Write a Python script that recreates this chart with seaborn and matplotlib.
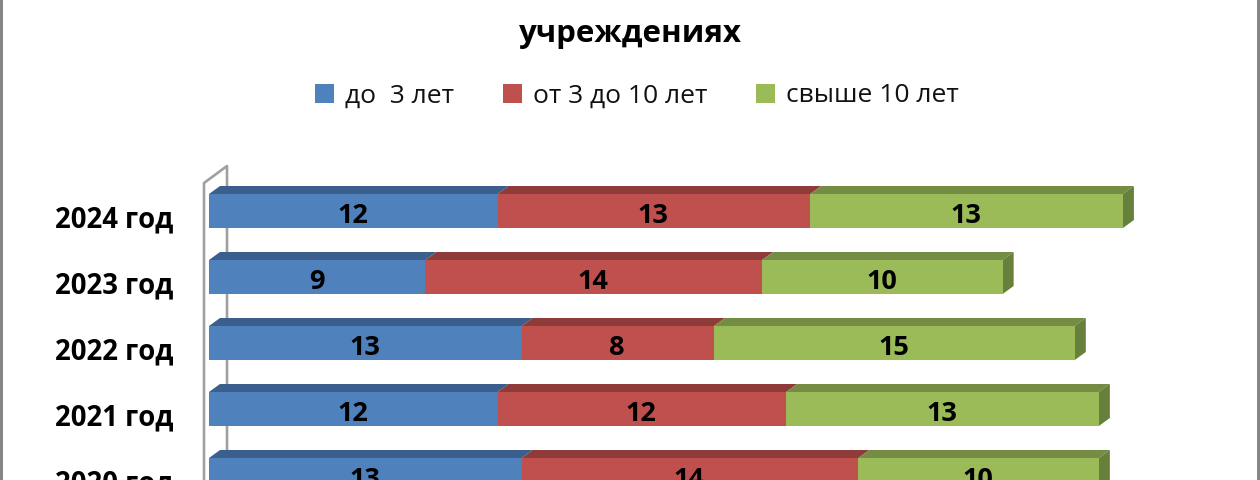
import numpy as np
import pandas as pd
import matplotlib
matplotlib.use("Agg")
import matplotlib.pyplot as plt
from matplotlib.patches import Polygon, Rectangle, Patch
from matplotlib.lines import Line2D
import seaborn as sns

years = ["2024 год", "2023 год", "2022 год", "2021 год", "2020 год"]
up_to_3 = [12, 9, 13, 12, 13]
from_3_to_10 = [13, 14, 8, 12, 14]
over_10 = [13, 10, 15, 13, 10]
series_names = ["до  3 лет", "от 3 до 10 лет", "свыше 10 лет"]
title_text = "учреждениях"

FRONT = ["#4f81bd", "#c0504d", "#9bbb59"]
TOP = ["#3b5f8c", "#8e3b39", "#748c43"]
SIDE = ["#36567f", "#823634", "#67803b"]

sns.set_theme(style="white")
plt.rcParams["font.family"] = ["Open Sans", "DejaVu Sans"]

W, H = 1260, 480
fig = plt.figure(figsize=(W / 100, H / 100), dpi=100, facecolor="white")

# axes placed in pixels; extends below the figure, the chart is cropped there
px_per_unit = 24.05
row_px = 66
ax_left, ax_top, ax_w = 209, 178, 1000
ax_h = row_px * 5
ax = fig.add_axes([ax_left / W, 1 - (ax_top + ax_h) / H, ax_w / W, ax_h / H])
ax.patch.set_alpha(0)

df = pd.DataFrame({"year": years, "a": up_to_3, "b": from_3_to_10, "c": over_10})
df["ab"] = df["a"] + df["b"]
df["abc"] = df["ab"] + df["c"]

bar_h = 34 / row_px
depth_x = 11 / px_per_unit
depth_y = 8 / row_px

# overlaid cumulative bars make the stack
for col, colour in zip(["abc", "ab", "a"], FRONT[::-1]):
    sns.barplot(data=df, y="year", x=col, orient="y", order=years, color=colour,
                width=bar_h, saturation=1, ax=ax, zorder=3, errorbar=None, linewidth=0)

ax.set_xlim(0, ax_w / px_per_unit)
ax.set_ylim(4.5, -0.5)

# pseudo-3D top and end faces
for i in range(len(years)):
    edges = [0, df["a"][i], df["ab"][i], df["abc"][i]]
    top = i - bar_h / 2
    for s in range(3):
        x0, x1 = edges[s], edges[s + 1]
        ax.add_patch(Polygon([(x0, top), (x0 + depth_x, top - depth_y),
                              (x1 + depth_x, top - depth_y), (x1, top)],
                             closed=True, fc=TOP[s], ec="none", zorder=2, clip_on=False))
    xe = edges[3]
    ax.add_patch(Polygon([(xe, top), (xe + depth_x, top - depth_y),
                          (xe + depth_x, top - depth_y + bar_h), (xe, top + bar_h)],
                         closed=True, fc=SIDE[2], ec="none", zorder=2, clip_on=False))
    # value labels
    for s, val in enumerate([up_to_3[i], from_3_to_10[i], over_10[i]]):
        ax.text((edges[s] + edges[s + 1]) / 2 - 0.03, i + 0.07, str(val), ha="center", va="center",
                fontsize=19.5, fontweight="bold", color="black", zorder=5)

ax.set_xlabel("")
ax.set_ylabel("")
ax.set_xticks([])
ax.set_yticks(np.arange(len(years)) + 5 / row_px, labels=years)
ax.tick_params(axis="y", length=0, pad=25.5, labelsize=19.8)
for t in ax.get_yticklabels():
    t.set_fontweight("bold")
    t.set_color("black")
for sp in ax.spines.values():
    sp.set_visible(False)

# chart wall and outer frame, in figure pixels
px = lambda x, y: (x / W, 1 - y / H)
wall = "#a0a0a0"
xs, ys = zip(*[px(*p) for p in [(204, 490), (204, 183), (227, 166), (227, 490)]])
fig.add_artist(Line2D(xs, ys, color=wall, lw=1.9, zorder=0))
fig.add_artist(Rectangle((0, 0), 3 / W, 1, fc="#868686", ec="none"))
fig.add_artist(Rectangle((1 - 3 / W, 0), 3 / W, 1, fc="#868686", ec="none"))

fig.text(630 / W, 1 - 34 / H, title_text, ha="center", va="center",
         fontsize=22.5, fontweight="bold", color="black")

handles = [Patch(fc=c, ec="none") for c in FRONT]
fig.legend(handles, series_names, loc="center", bbox_to_anchor=(637 / W, 1 - 96 / H),
           ncol=3, frameon=False, fontsize=19, handlelength=0.72, handleheight=0.72,
           handletextpad=0.42, columnspacing=1.85, labelcolor="#111111")

fig.savefig("out.png", dpi=100, facecolor="white")
